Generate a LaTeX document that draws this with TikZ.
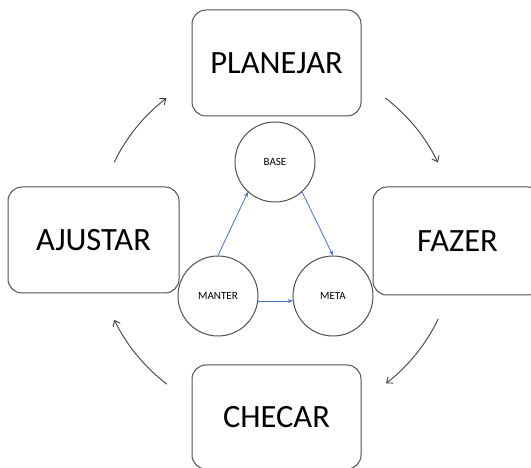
\documentclass[tikz,border=0pt]{standalone}
\usepackage{fontspec}
\setmainfont{Carlito}
\usetikzlibrary{arrows.meta,calc}
\definecolor{boxgray}{HTML}{505050}
\definecolor{arcgray}{HTML}{404040}
\definecolor{linkblue}{HTML}{4472C4}
\begin{document}
\begin{tikzpicture}[x=1pt,y=1pt,
  box/.style={draw=boxgray, fill=white, line width=1pt, rounded corners=14pt, minimum width=169pt, minimum height=106pt, inner sep=0pt, font=\fontsize{32.5}{38}\selectfont},
  ring/.style={draw=boxgray, fill=white, line width=1pt, circle, minimum size=80pt, inner sep=0pt, font=\fontsize{11}{13}\selectfont},
  link/.style={draw=linkblue, line width=0.8pt, -{Stealth[length=5pt,width=4pt]}},
  cyc/.style={draw=arcgray, line width=0.9pt, -{Straight Barb[length=5pt,width=8pt]}}]
\useasboundingbox (0,0) rectangle (531,468);
\clip (0,0) rectangle (531,468);
\node[box] (plan) at (276.5,405) {PLANEJAR};
\node[box, minimum height=108pt] (fazer) at (457.5,227) {FAZER};
\node[box, minimum width=171pt] (ajustar) at (93.5,228) {AJUSTAR};
\node[box, minimum height=104pt] (checar) at (276.5,51) {CHECAR};
\node[ring] (base) at (275,306) {BASE};
\node[ring] (manter) at (218,172) {MANTER};
\node[ring] (meta) at (333,172) {META};
\coordinate (c) at (276,227);
\coordinate (tl) at ($(c)+(154:180)$);
\coordinate (tr) at ($(c)+(52.7:180)$);
\coordinate (br) at ($(c)+(-25.6:180)$);
\coordinate (bl) at ($(c)+(-127.3:180)$);
\draw[cyc] (tl) arc[start angle=154, end angle=127.5, radius=180];
\draw[cyc] (tr) arc[start angle=52.7, end angle=25.9, radius=180];
\draw[cyc] (br) arc[start angle=-25.6, end angle=-52.3, radius=180];
\draw[cyc] (bl) arc[start angle=-127.3, end angle=-154, radius=180];
\draw[link] (manter.north) -- (base.228);
\draw[link] (base.-48) -- (meta.north);
\draw[link] (manter.-7) -- (meta.187);
\end{tikzpicture}
\end{document}
